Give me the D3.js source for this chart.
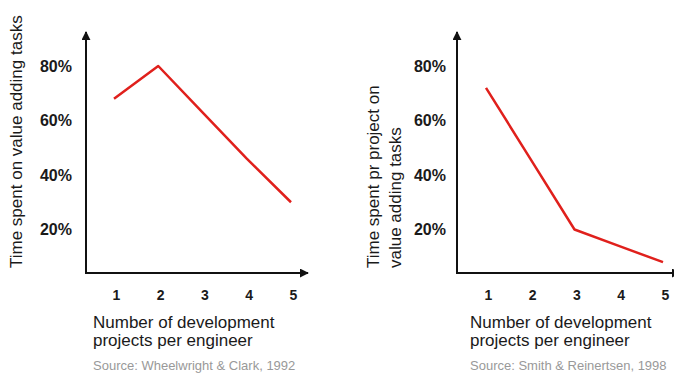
<!DOCTYPE html>
<html>
<head>
<meta charset="utf-8">
<script src="https://cdn.jsdelivr.net/npm/d3@7"></script>
<style>
  body { margin: 0; background: #fff; }
  svg { font-family: "Liberation Sans", Arial, sans-serif; }
</style>
</head>
<body>
<div id="chart-area"></div>
<script>
// data
var projects = [1, 2, 3, 4, 5];
var leftValues = [68, 80, 63, 46, 30];     // Wheelwright & Clark
var rightValues = [72, 46, 20, 14, 8];     // Smith & Reinertsen
var yTicks = [20, 40, 60, 80];

var svg = d3.select("#chart-area").append("svg")
    .attr("width", 674)
    .attr("height", 376);

// arrow marker
svg.append("defs").append("marker")
    .attr("id", "arrow")
    .attr("viewBox", "0 0 10 10")
    .attr("refX", 9)
    .attr("refY", 5)
    .attr("markerWidth", 4.5)
    .attr("markerHeight", 4.5)
    .attr("markerUnits", "strokeWidth")
    .attr("orient", "auto")
  .append("path")
    .attr("d", "M0,0 L10,5 L0,10 Z")
    .attr("fill", "#111");

var y = d3.scaleLinear().domain([0, 80]).range([284, 66]);

function panel(opts) {
    var x = d3.scaleLinear().domain([1, 5]).range(opts.xRange);
    var g = svg.append("g");

    // y tick labels
    var yAxis = d3.axisLeft(y)
        .tickValues(yTicks)
        .tickSize(0)
        .tickPadding(0)
        .tickFormat(function(d) { return d + "%"; });
    var ya = g.append("g")
        .attr("transform", "translate(" + opts.yLabelX + ",0)")
        .call(yAxis);
    ya.select(".domain").remove();
    ya.selectAll("text")
        .attr("font-family", "'Liberation Sans', Arial, sans-serif")
        .attr("font-size", "16px")
        .attr("font-weight", "bold")
        .attr("fill", "#1a1a1a");

    // x tick labels
    var xAxis = d3.axisBottom(x)
        .tickValues(projects)
        .tickSize(0)
        .tickPadding(0)
        .tickFormat(d3.format("d"));
    var xa = g.append("g")
        .attr("transform", "translate(" + opts.tickShift + ",290)")
        .call(xAxis);
    xa.select(".domain").remove();
    xa.selectAll("text")
        .attr("font-family", "'Liberation Sans', Arial, sans-serif")
        .attr("font-size", "14px")
        .attr("font-weight", "bold")
        .attr("fill", "#1a1a1a");

    // axes with arrows
    g.append("line")
        .attr("x1", opts.axisX).attr("y1", 273)
        .attr("x2", opts.axisX).attr("y2", 32)
        .attr("stroke", "#111").attr("stroke-width", 2)
        .attr("marker-end", "url(#arrow)");
    g.append("line")
        .attr("x1", opts.axisX - 1).attr("y1", 273)
        .attr("x2", opts.xAxisEnd).attr("y2", 273)
        .attr("stroke", "#111").attr("stroke-width", 2)
        .attr("marker-end", "url(#arrow)");

    // red line
    var line = d3.line()
        .x(function(d, i) { return x(projects[i]); })
        .y(function(d) { return y(d); });
    g.append("path")
        .datum(opts.values)
        .attr("d", line)
        .attr("fill", "none")
        .attr("stroke", "#e0201c")
        .attr("stroke-width", 2.5)
        .attr("stroke-linejoin", "round");

    // y title (rotated, anchored at bottom)
    var yt = g.append("text")
        .attr("transform", "translate(" + opts.yTitleX + ",268) rotate(-90)")
        .attr("font-size", "17px")
        .attr("fill", "#1a1a1a");
    opts.yTitle.forEach(function(t, i) {
        yt.append("tspan")
            .attr("x", 0)
            .attr("y", i * 22)
            .text(t);
    });

    // x title
    g.append("text")
        .attr("x", opts.xTitleX).attr("y", 328)
        .attr("font-size", "17px")
        .attr("fill", "#1a1a1a")
        .text("Number of development");
    g.append("text")
        .attr("x", opts.xTitleX).attr("y", 346)
        .attr("font-size", "17px")
        .attr("fill", "#1a1a1a")
        .text("projects per engineer");

    // source
    g.append("text")
        .attr("x", opts.xTitleX).attr("y", 370)
        .attr("font-size", "13px")
        .attr("fill", "#999")
        .text(opts.source);
}

panel({
    xRange: [114, 291], tickShift: 2, axisX: 86, xAxisEnd: 308,
    yLabelX: 72, yTitleX: 22, xTitleX: 93,
    values: leftValues,
    yTitle: ["Time spent on value adding tasks"],
    source: "Source: Wheelwright & Clark, 1992"
});

panel({
    xRange: [486, 663], tickShift: 2, axisX: 457, xAxisEnd: 680,
    yLabelX: 446, yTitleX: 379, xTitleX: 470,
    values: rightValues,
    yTitle: ["Time spent pr project on", "value adding tasks"],
    source: "Source: Smith & Reinertsen, 1998"
});
</script>
</body>
</html>
